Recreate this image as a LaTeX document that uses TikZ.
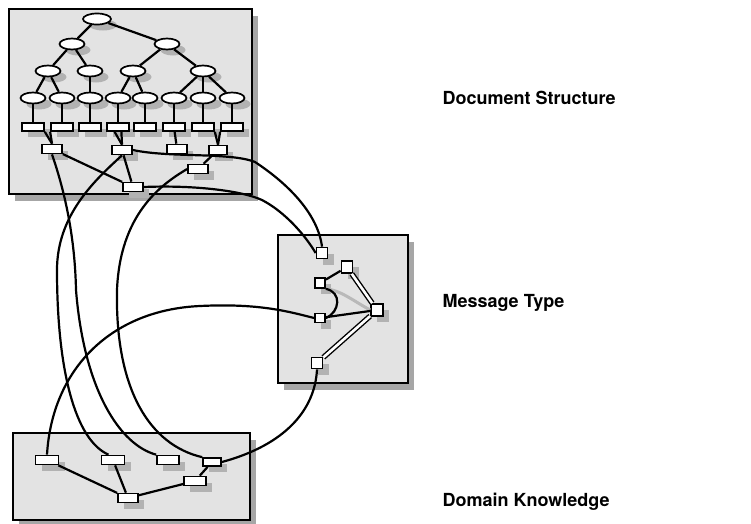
\documentclass[tikz,border=0pt]{standalone}
\usepackage{fontspec}
\newfontfamily\headfont{TeX Gyre Heros}
\usetikzlibrary{shadows,shapes.geometric}

\begin{document}
\begin{tikzpicture}[x=1pt, y=-1pt,
    panel/.style={draw, line width=2pt, fill=gray!22, inner sep=0pt,
        drop shadow={shadow xshift=6pt, shadow yshift=-7pt, fill=gray!70, opacity=1}},
    oval/.style={ellipse, draw, line width=1.7pt, fill=white, inner sep=0pt,
        minimum width=25pt, minimum height=11pt,
        drop shadow={shadow xshift=6pt, shadow yshift=-6pt, fill=gray!60, opacity=1}},
    box/.style={rectangle, draw, line width=1.7pt, fill=white, inner sep=0pt,
        minimum width=22pt, minimum height=8pt,
        drop shadow={shadow xshift=6pt, shadow yshift=-6pt, fill=gray!60, opacity=1}},
    sq/.style={box, minimum width=11pt, minimum height=11pt},
    link/.style={line width=2.2pt},
    twin/.style={double, double distance=2.6pt, line width=1.4pt},
    title/.style={anchor=base west, font=\headfont\bfseries\fontsize{18}{20}\selectfont}]
    \useasboundingbox (0,0) rectangle (751,523);

    \node[panel, minimum width=243pt, minimum height=185pt] (docpanel) at (130,101) {};
    \node[panel, minimum width=130pt, minimum height=148pt] (msgpanel) at (343,309) {};
    \node[panel, minimum width=237pt, minimum height=87pt] (dompanel) at (131.5,476.5) {};

    \node[oval, minimum width=28pt] (root) at (97,19) {};
    \node[oval] (sa) at (72,44) {};
    \node[oval] (sb) at (167,44) {};
    \node[oval] (sa1) at (48,71) {};
    \node[oval] (sa2) at (90,71) {};
    \node[oval] (sb1) at (133,71) {};
    \node[oval] (sb2) at (203,71) {};
    \foreach \x [count=\i] in {33,62,90,118,145,174,203,232} {
        \node[oval] (leaf\i) at (\x,98) {};
        \node[box] (part\i) at (\x,127) {};
        \draw[link] (leaf\i) -- (part\i);
    }
    \draw[link] (root) -- (sa);
    \draw[link] (root) -- (sb);
    \draw[link] (sa) -- (sa1);
    \draw[link] (sa) -- (sa2);
    \draw[link] (sb) -- (sb1);
    \draw[link] (sb) -- (sb2);
    \draw[link] (sa1) -- (leaf1);
    \draw[link] (sa1) -- (leaf2);
    \draw[link] (sa2) -- (leaf3);
    \draw[link] (sb1) -- (leaf4);
    \draw[link] (sb1) -- (leaf5);
    \draw[link] (sb2) -- (leaf6);
    \draw[link] (sb2) -- (leaf7);
    \draw[link] (sb2) -- (leaf8);

    \node[box, minimum width=20pt, minimum height=9pt] (sec1) at (52,149) {};
    \node[box, minimum width=20pt, minimum height=9pt] (sec2) at (122,150) {};
    \node[box, minimum width=20pt, minimum height=9pt] (sec3) at (177,149) {};
    \node[box, minimum width=18pt, minimum height=9pt] (sec4) at (218,150) {};
    \node[box, minimum width=20pt, minimum height=9pt] (sec5) at (198,169) {};
    \node[box, minimum width=20pt, minimum height=9pt] (sec6) at (133,187) {};
    \draw[link] (part1.south east) -- (sec1.north);
    \draw[link] (part2.south west) -- (sec1.north);
    \draw[link] (part4.-125) -- (sec2.north);
    \draw[link] (part4.-55) -- (sec2.north);
    \draw[link] (part6) -- (sec3);
    \draw[link] (part7.south east) -- (sec4.north);
    \draw[link] (part8.south west) -- (sec4.north);
    \draw[link] (sec1) -- (sec6);
    \draw[link] (sec2) -- (sec6);
    \draw[link] (sec4) -- (sec5);

    \node[sq] (msg1) at (322,253) {};
    \node[sq, minimum height=12pt] (msg2) at (347,267) {};
    \node[sq, minimum width=10pt, minimum height=10pt] (msg3) at (320,283) {};
    \node[sq, minimum width=10pt, minimum height=9pt] (msg4) at (320,318) {};
    \node[sq, minimum width=12pt, minimum height=12pt] (msg5) at (377,310) {};
    \node[sq] (msg6) at (317,363) {};
    \draw[gray!55, line width=3pt] (msg3.south east) .. controls (340,290) and (352,300) .. (msg5.west);
    \draw[link] (msg3) -- (msg2);
    \draw[twin] (msg2) -- (msg5);
    \draw[twin] (msg6) -- (msg5);
    \draw[link] (msg4) -- (msg5);
    \draw[link] (msg3.south east) .. controls (342,292) and (340,312) .. (msg4.east);

    \node[box, minimum width=23pt, minimum height=9pt] (dom1) at (47,460) {};
    \node[box, minimum width=23pt, minimum height=9pt] (dom2) at (113,460) {};
    \node[box, minimum width=22pt, minimum height=9pt] (dom3) at (168,460) {};
    \node[box, minimum width=18pt, minimum height=8pt] (dom4) at (212,462) {};
    \node[box, minimum width=22pt, minimum height=9pt] (dom5) at (195,481) {};
    \node[box, minimum width=20pt, minimum height=9pt] (dom6) at (128,498) {};
    \draw[link] (dom1) -- (dom6);
    \draw[link] (dom2) -- (dom6);
    \draw[link] (dom6) -- (dom5);
    \draw[link] (dom5) -- (dom4);

    \draw[link] (sec1.south) .. controls (66,195) and (75,240) .. (76,290)
        .. controls (84,390) and (120,445) .. (dom3.north west);
    \draw[link] (sec2.south) .. controls (95,180) and (57,215) .. (57,270)
        .. controls (57,370) and (75,440) .. (dom2.130);
    \draw[link] (sec5.west) .. controls (160,185) and (120,215) .. (117,290)
        .. controls (115,390) and (150,445) .. (dom4.north west);
    \draw[link] (sec2.east) .. controls (170,158) and (230,152) .. (255,162)
        .. controls (290,185) and (318,215) .. (msg1.north);
    \draw[link] (sec6.east) .. controls (190,185) and (240,190) .. (262,200)
        .. controls (285,212) and (305,235) .. (msg1.west);
    \draw[link] (dom1.north) .. controls (52,370) and (110,310) .. (200,306)
        .. controls (260,303) and (290,312) .. (msg4.west);
    \draw[link] (msg6.south) .. controls (315,410) and (285,445) .. (dom4.east);

    \node[title] (doclabel) at (439,104) {Document Structure};
    \node[title] (msglabel) at (439,307) {Message Type};
    \node[title] (domlabel) at (439,506) {Domain Knowledge};
\end{tikzpicture}
\end{document}
